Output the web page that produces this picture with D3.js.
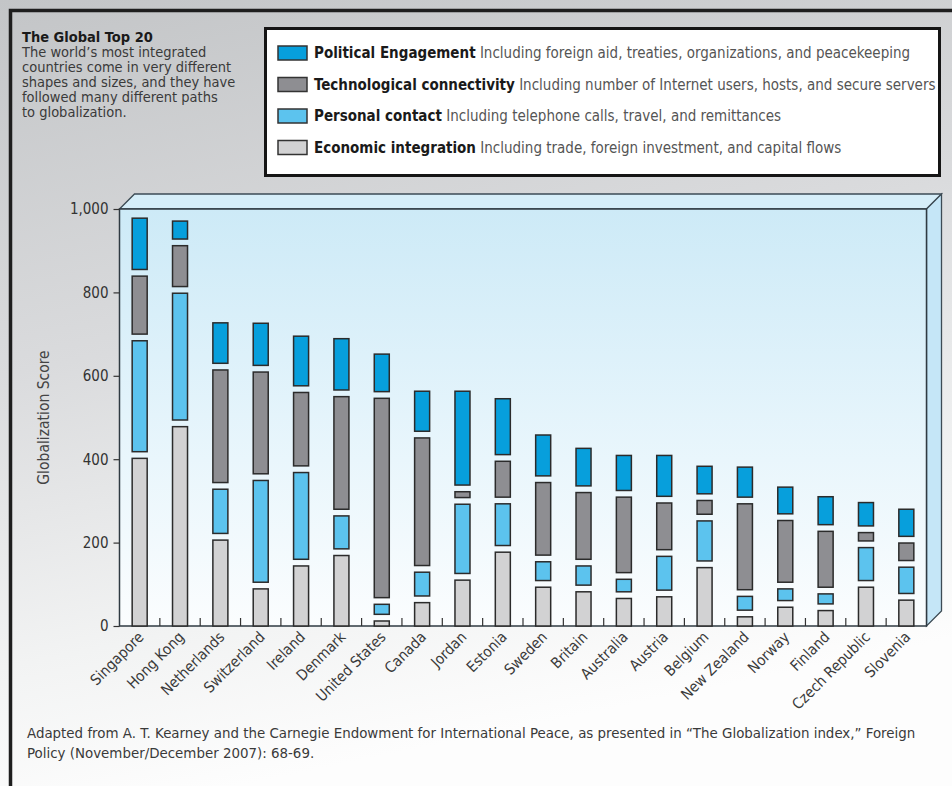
<!DOCTYPE html>
<html><head><meta charset="utf-8">
<script src="https://cdn.jsdelivr.net/npm/d3@7"></script>
<style>
body{margin:0;background:#fff}
svg{display:block}
text{font-family:"Liberation Sans Narrow","DejaVu Sans Condensed","Arial Narrow",sans-serif}
</style>
</head><body>
<script>
// ---- data ----
const countries = ["Singapore","Hong Kong","Netherlands","Switzerland","Ireland","Denmark","United States","Canada","Jordan","Estonia","Sweden","Britain","Australia","Austria","Belgium","New Zealand","Norway","Finland","Czech Republic","Slovenia"];
const economic      = [402,478,206, 89,144,169, 12, 56,110,177, 93, 82, 66, 70,140, 22, 45, 37, 93, 62];
const personal      = [266,304,106,244,208, 79, 24, 57,166,100, 45, 46, 30, 81, 96, 33, 28, 24, 79, 63];
const technological = [139, 98,270,244,176,270,478,306, 14, 86,174,160,181,112, 33,206,148,134, 20, 42];
const political     = [123, 43, 97,101,119,123, 90, 96,225,134, 98, 90, 84, 98, 66, 72, 64, 67, 56, 65];
const yTicks = [0,200,400,600,800,1000];
const seriesKeys = ["economic","personal","technological","political"];
const legendItems = [
  {key:"political", bold:"Political Engagement", rest:"Including foreign aid, treaties, organizations, and peacekeeping"},
  {key:"technological", bold:"Technological connectivity", rest:"Including number of Internet users, hosts, and secure servers"},
  {key:"personal", bold:"Personal contact", rest:"Including telephone calls, travel, and remittances"},
  {key:"economic", bold:"Economic integration", rest:"Including trade, foreign investment, and capital flows"}
];
const titleText = "The Global Top 20";
const introLines = ["The world\u2019s most integrated","countries come in very different","shapes and sizes, and they have","followed many different paths","to globalization."];
const sourceLines = ["Adapted from A. T. Kearney and the Carnegie Endowment for International Peace, as presented in \u201cThe Globalization index,\u201d Foreign","Policy (November/December 2007): 68-69."];
const yLabel = "Globalization Score";

// ---- styles ----
const colors = {political:"#079fdc", technological:"#8e8e92", personal:"#5cc3ee", economic:"#d2d2d3"};
const W = 952, H = 786;
const plot = {left:119.5, right:926.5, top:209, bottom:626};
const depth = 15;
const GAP = 16; // visual gap between stacked segments, in score units
const FONT = '"Liberation Sans Narrow","DejaVu Sans Condensed",sans-serif';

const svg = d3.select("body").append("svg").attr("width",W).attr("height",H);
const defs = svg.append("defs");

const bg = defs.append("linearGradient").attr("id","bg").attr("x1",0).attr("y1",0).attr("x2",0.25).attr("y2",1);
bg.append("stop").attr("offset",0).attr("stop-color","#c3c5c7");
bg.append("stop").attr("offset",0.45).attr("stop-color","#dadbdd");
bg.append("stop").attr("offset",0.8).attr("stop-color","#f2f3f3");
bg.append("stop").attr("offset",1).attr("stop-color","#fdfdfd");

const pg = defs.append("linearGradient").attr("id","plotbg").attr("x1",0).attr("y1",0).attr("x2",0).attr("y2",1);
pg.append("stop").attr("offset",0).attr("stop-color","#cdeaf7");
pg.append("stop").attr("offset",0.6).attr("stop-color","#e9f6fc");
pg.append("stop").attr("offset",1).attr("stop-color","#fbfdfe");

svg.append("rect").attr("width",W).attr("height",H).attr("fill","url(#bg)");
// frame (top + left)
svg.append("path").attr("d",`M10.5,${H} L10.5,10.5 L${W},10.5`).attr("fill","none").attr("stroke","#1e1e1e").attr("stroke-width",3.5);

// intro text
const intro = svg.append("text").attr("x",22).attr("y",42).attr("fill","#3a3a3a").style("font-size","14.5px");
intro.append("tspan").attr("x",22).attr("dy",0).style("font-weight","bold").attr("fill","#1a1a1a").text(titleText);
introLines.forEach(l=>intro.append("tspan").attr("x",22).attr("dy",15).text(l));

// legend
svg.append("rect").attr("x",265.5).attr("y",28.5).attr("width",674).attr("height",147).attr("fill","#fff").attr("stroke","#151515").attr("stroke-width",3);
const lg = svg.append("g").selectAll("g").data(legendItems).join("g")
  .attr("transform",(d,i)=>`translate(278,${46+i*31.5})`);
lg.append("rect").attr("width",29).attr("height",14).attr("fill",d=>colors[d.key]).attr("stroke","#333").attr("stroke-width",1.5);
const lt = lg.append("text").attr("x",36).attr("y",12).style("font-size","15px");
lt.append("tspan").style("font-weight","bold").attr("fill","#1a1a1a").text(d=>d.bold);
lt.append("tspan").attr("fill","#555").text(d=>" "+d.rest);

// scales
const x = d3.scaleBand().domain(countries).range([plot.left,plot.right]).paddingInner(0.628).paddingOuter(0.314);
const y = d3.scaleLinear().domain([0,1000]).range([plot.bottom,plot.top]);

// 3D box
svg.append("path").attr("d",`M${plot.left},${plot.top} L${plot.left+depth},${plot.top-depth} L${plot.right+depth},${plot.top-depth} L${plot.right},${plot.top} Z`)
  .attr("fill","#d6eef9").attr("stroke","#3d4b55").attr("stroke-width",1.3);
svg.append("path").attr("d",`M${plot.right},${plot.top} L${plot.right+depth},${plot.top-depth} L${plot.right+depth},${plot.bottom-depth} L${plot.right},${plot.bottom} Z`)
  .attr("fill","#c5e6f7").attr("stroke","#3d4b55").attr("stroke-width",1.3);
svg.append("rect").attr("x",plot.left).attr("y",plot.top).attr("width",plot.right-plot.left).attr("height",plot.bottom-plot.top)
  .attr("fill","url(#plotbg)").attr("stroke","#2f3a42").attr("stroke-width",1.5);

// y axis
const yAxis = svg.append("g").attr("transform",`translate(${plot.left},0)`)
  .call(d3.axisLeft(y).tickValues(yTicks).tickSize(6).tickPadding(5).tickFormat(d3.format(",")));
yAxis.select(".domain").remove();
yAxis.selectAll(".tick line").attr("stroke","#333").attr("stroke-width",1.2);
yAxis.selectAll(".tick text").attr("fill","#333").style("font-size","15px").style("font-family",FONT);

svg.append("text").attr("transform",`translate(49,${(plot.top+plot.bottom)/2}) rotate(-90)`)
  .attr("text-anchor","middle").attr("fill","#444").style("font-size","15.5px").text(yLabel);

// x ticks at band boundaries (inside, upward)
const boundaries = d3.range(1,countries.length).map(i=>x.range()[0]+i*x.step());
svg.append("g").selectAll("line").data(boundaries).join("line")
  .attr("x1",d=>d).attr("x2",d=>d).attr("y1",plot.bottom).attr("y2",plot.bottom-8)
  .attr("stroke","#333").attr("stroke-width",1.2);

// x labels
const xAxis = svg.append("g").attr("transform",`translate(0,${plot.bottom})`)
  .call(d3.axisBottom(x).tickSize(0).tickPadding(0));
xAxis.select(".domain").remove();
xAxis.selectAll(".tick text")
  .attr("text-anchor","end").attr("dy",0).attr("y",0)
  .attr("transform","translate(5,12) rotate(-45)")
  .attr("fill","#3a3a3a").style("font-size","15px")
  .style("font-family",FONT);

// bars
const table = countries.map((c,i)=>({country:c, economic:economic[i], personal:personal[i], technological:technological[i], political:political[i]}));
const stacked = d3.stack().keys(seriesKeys)(table);
const layers = svg.append("g").selectAll("g").data(stacked).join("g")
  .attr("fill",d=>colors[d.key]);
layers.selectAll("rect").data((d)=>d.map(s=>({s, k:d.index}))).join("rect")
  .attr("x",d=>x(d.s.data.country))
  .attr("width",x.bandwidth())
  .attr("y",d=>y(d.s[1]+d.k*GAP))
  .attr("height",d=>y(d.s[0]+d.k*GAP)-y(d.s[1]+d.k*GAP))
  .attr("stroke","#2b2b2b").attr("stroke-width",1.5);

// source
const src = svg.append("text").attr("x",27).attr("y",738).attr("fill","#3a3a3a").style("font-size","14.9px");
sourceLines.forEach((l,i)=>src.append("tspan").attr("x",27).attr("dy",i?20:0).text(l));
</script>
</body></html>
